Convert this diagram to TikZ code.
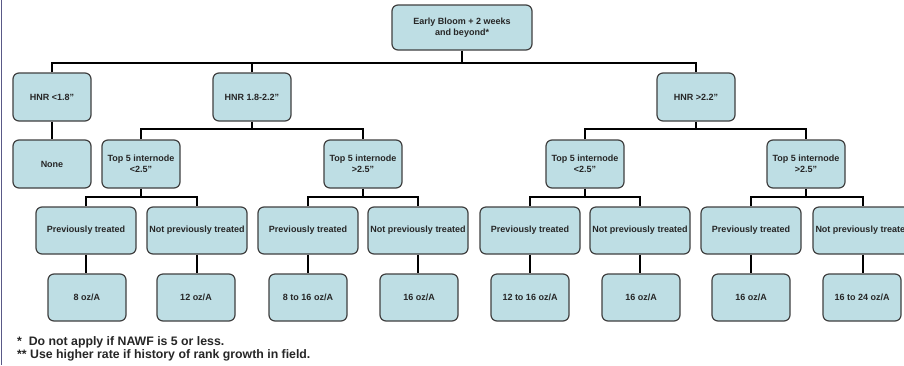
\documentclass[tikz,border=0pt]{standalone}
\usepackage{fontspec}
\setmainfont{Liberation Sans}
\begin{document}
\begin{tikzpicture}[x=1pt,y=-1pt,
  box/.style={draw=black!75, line width=1.2pt, fill=boxfill, rounded corners=6pt,
    align=center, inner sep=1pt, font=\fontsize{9}{10.5}\selectfont\bfseries, text=black!85},
  lvA/.style={box, minimum width=78pt, minimum height=48pt},
  lvC/.style={box, minimum width=100pt, minimum height=47pt},
  lvD/.style={box, minimum width=78pt, minimum height=47pt},
  conn/.style={draw=black, line width=1.8pt},
  foot/.style={anchor=west, inner sep=0pt, font=\fontsize{12.3}{14}\selectfont\bfseries, text=black!85}]
\definecolor{boxfill}{RGB}{190,222,228}
\useasboundingbox (0,0) rectangle (904,365);
\clip (0,0) rectangle (904,365);
\fill[white] (0,0) rectangle (904,365);
\draw[draw=black!40!blue!30!gray, line width=0.8pt] (1.5,0) -- (1.5,365);

% root
\node[box, minimum width=140pt, minimum height=45pt] (root) at (462,27.5) {Early Bloom + 2 weeks\\and beyond*};

% level 1
\node[lvA] (h1) at (52,97) {HNR <1.8"};
\node[lvA] (h2) at (252,97) {HNR 1.8-2.2"};
\node[lvA] (h3) at (696,97) {HNR >2.2"};

% level 2
\node[lvA] (none) at (52,164) {None};
\node[lvA] (t1) at (141,164) {Top 5 internode\\<2.5"};
\node[lvA] (t2) at (363,164) {Top 5 internode\\>2.5"};
\node[lvA] (t3) at (585,164) {Top 5 internode\\<2.5"};
\node[lvA] (t4) at (806,164) {Top 5 internode\\>2.5"};

% level 3
\node[lvC] (p1) at (86,230.5) {Previously treated};
\node[lvC] (n1) at (197,230.5) {Not previously treated};
\node[lvC] (p2) at (308,230.5) {Previously treated};
\node[lvC] (n2) at (418,230.5) {Not previously treated};
\node[lvC] (p3) at (530,230.5) {Previously treated};
\node[lvC] (n3) at (640,230.5) {Not previously treated};
\node[lvC] (p4) at (751,230.5) {Previously treated};
\node[lvC] (n4) at (863,230.5) {Not previously treated};

% level 4
\node[lvD] (r1) at (87,297.5) {8 oz/A};
\node[lvD] (r2) at (196,297.5) {12 oz/A};
\node[lvD] (r3) at (308,297.5) {8 to 16 oz/A};
\node[lvD] (r4) at (419,297.5) {16 oz/A};
\node[lvD] (r5) at (530,297.5) {12 to 16 oz/A};
\node[lvD] (r6) at (641,297.5) {16 oz/A};
\node[lvD] (r7) at (751,297.5) {16 oz/A};
\node[lvD] (r8) at (862,297.5) {16 to 24 oz/A};

% buses
\coordinate (b0) at (462,63);
\coordinate (b1) at (252,129);
\coordinate (b2) at (696,129);
\coordinate (c1) at (141,197);
\coordinate (c2) at (363,197);
\coordinate (c3) at (585,197);
\coordinate (c4) at (806,197);

\begin{scope}[conn]
\draw (root.south) -- (b0);
\draw (h1.north) |- (b0) -| (h3.north);
\draw (h2.north) -- (h2.north |- b0);
\draw (h1.south) -- (none.north);
\draw (h2.south) -- (b1);
\draw (t1.north) |- (b1) -| (t2.north);
\draw (h3.south) -- (b2);
\draw (t3.north) |- (b2) -| (t4.north);
\draw (t1.south) -- (c1);
\draw (p1.north) |- (c1) -| (n1.north);
\draw (t2.south) -- (c2);
\draw (p2.north) |- (c2) -| (n2.north);
\draw (t3.south) -- (c3);
\draw (p3.north) |- (c3) -| (n3.north);
\draw (t4.south) -- (c4);
\draw (p4.north) |- (c4) -| (n4.north);
\draw (p1.south) -- (p1.south |- r1.north);
\draw (n1.south) -- (n1.south |- r2.north);
\draw (p2.south) -- (p2.south |- r3.north);
\draw (n2.south) -- (n2.south |- r4.north);
\draw (p3.south) -- (p3.south |- r5.north);
\draw (n3.south) -- (n3.south |- r6.north);
\draw (p4.south) -- (p4.south |- r7.north);
\draw (n4.south) -- (n4.south |- r8.north);
\end{scope}

% footnotes
\node[foot] (f1) at (17,342.5) {*\ \ Do not apply if NAWF is 5 or less.};
\node[foot] (f2) at (17,355) {** Use higher rate if history of rank growth in field.};
\end{tikzpicture}
\end{document}
